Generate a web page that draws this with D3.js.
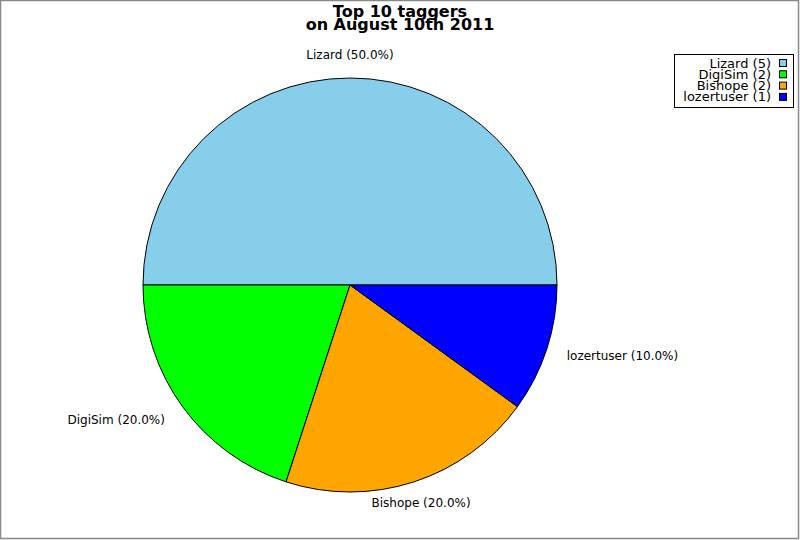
<!DOCTYPE html>
<html>
<head>
<meta charset="utf-8">
<script src="https://cdn.jsdelivr.net/npm/d3@7"></script>
<style>
  body { margin: 0; background: #fff; }
  text { font-family: "DejaVu Sans", sans-serif; }
</style>
</head>
<body>
<div id="chart"></div>
<script>
// chart data
var titleLines = ["Top 10 taggers", "on August 10th 2011"];
var taggers = ["Lizard", "DigiSim", "Bishope", "lozertuser"];
var tagCounts = [5, 2, 2, 1];
var sliceColors = ["#87ceeb", "#00ff00", "#ffa500", "#0000ff"];

var WIDTH = 800, HEIGHT = 540;
var CX = 350, CY = 285, RADIUS = 207, LABEL_RADIUS = 230;

var svg = d3.select("#chart").append("svg")
    .attr("width", WIDTH)
    .attr("height", HEIGHT);

// frame
svg.append("rect")
    .attr("x", 0.5).attr("y", 0.5)
    .attr("width", WIDTH - 2).attr("height", HEIGHT - 2)
    .attr("fill", "#fff")
    .attr("stroke", "#888")
    .attr("stroke-width", 1.5);

// title
svg.append("g").selectAll("text")
    .data(titleLines)
    .enter()
    .append("text")
    .attr("x", 400)
    .attr("y", function(d, i) { return 17 + i * 12.5; })
    .attr("text-anchor", "middle")
    .style("font-size", "16px")
    .style("font-weight", "bold")
    .text(function(d) { return d; });

var data = taggers.map(function(name, i) {
    return {name: name, count: tagCounts[i], color: sliceColors[i]};
});
var total = d3.sum(tagCounts);

// counter-clockwise from 3 o'clock, like the original
var pie = d3.pie()
    .sort(null)
    .value(function(d) { return d.count; })
    .startAngle(Math.PI / 2)
    .endAngle(Math.PI / 2 - 2 * Math.PI);

var arc = d3.arc().innerRadius(0).outerRadius(RADIUS);
var arcs = pie(data);

var g = svg.append("g")
    .attr("transform", "translate(" + CX + "," + CY + ")");

g.selectAll("path")
    .data(arcs)
    .enter()
    .append("path")
    .attr("d", arc)
    .attr("fill", function(d) { return d.data.color; })
    .attr("stroke", "#000")
    .attr("stroke-width", 1);

// slice labels
function midAngle(d) { return (d.startAngle + d.endAngle) / 2; }

g.selectAll("text.label")
    .data(arcs)
    .enter()
    .append("text")
    .classed("label", true)
    .attr("x", function(d) { return LABEL_RADIUS * Math.sin(midAngle(d)); })
    .attr("y", function(d) { return -LABEL_RADIUS * Math.cos(midAngle(d)); })
    .attr("dx", function(d) {
        var s = Math.sin(midAngle(d));
        if(Math.abs(s) < 0.5) return 0;
        return s > 0 ? -2 : 1;
    })
    .attr("dy", "0.3em")
    .attr("text-anchor", function(d) {
        var s = Math.sin(midAngle(d));
        if(Math.abs(s) < 0.5) return "middle";
        return s > 0 ? "start" : "end";
    })
    .style("font-size", "12px")
    .text(function(d) {
        return d.data.name + " (" + (d.data.count / total * 100).toFixed(1) + "%)";
    });

// legend
var legend = svg.append("g").attr("transform", "translate(674,54)");
legend.append("rect")
    .attr("x", 0.5).attr("y", 0.5)
    .attr("width", 119).attr("height", 53)
    .attr("fill", "#fff")
    .attr("stroke", "#000");

var rows = legend.selectAll("g.row")
    .data(data)
    .enter()
    .append("g")
    .classed("row", true)
    .attr("transform", function(d, i) { return "translate(0," + (8 + i * 11.3) + ")"; });

rows.append("rect")
    .attr("x", 105.5).attr("y", -2.5)
    .attr("width", 7).attr("height", 7)
    .attr("fill", function(d) { return d.color; })
    .attr("stroke", "#000");

rows.append("text")
    .attr("x", 97)
    .attr("y", 1)
    .attr("dy", "0.35em")
    .attr("text-anchor", "end")
    .style("font-size", "13px")
    .text(function(d) { return d.name + " (" + d.count + ")"; });
</script>
</body>
</html>
